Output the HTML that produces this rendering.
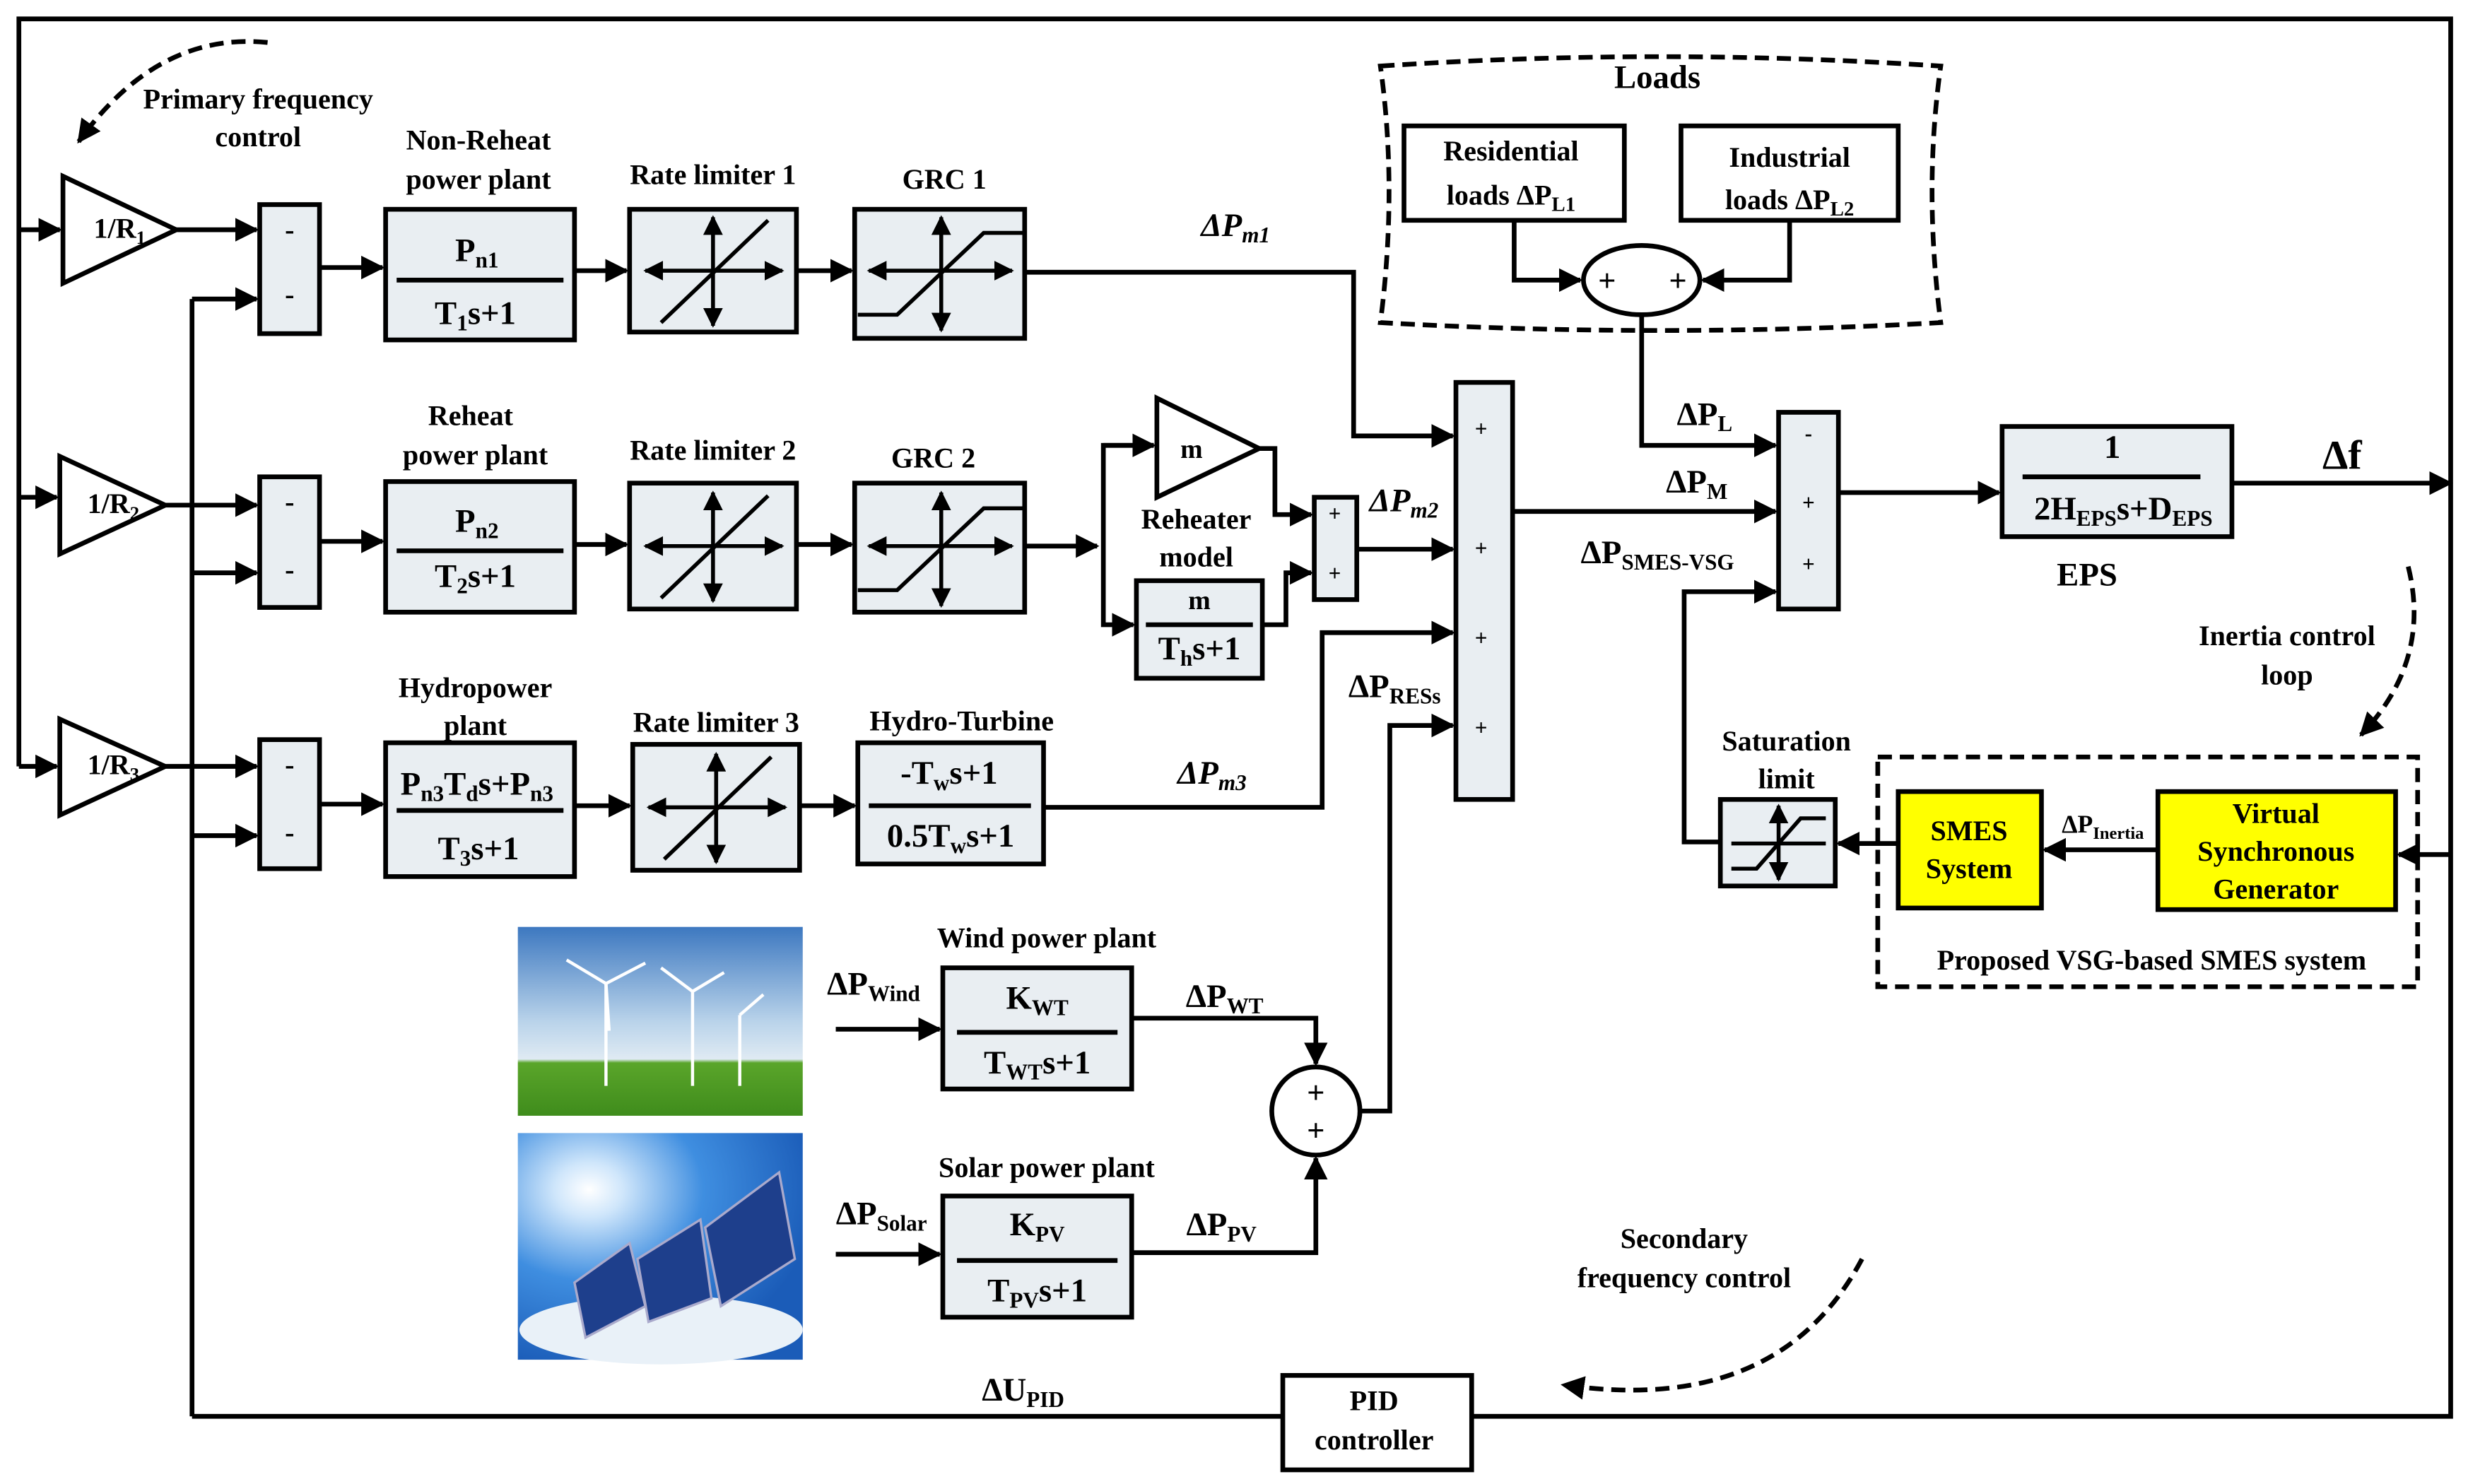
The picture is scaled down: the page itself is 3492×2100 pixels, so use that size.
<!DOCTYPE html>
<html><head><meta charset="utf-8"><style>
html,body{margin:0;padding:0;background:#fff}
svg{display:block}
text{font-family:"Liberation Serif",serif;font-weight:bold;fill:#000}
</style></head><body>
<svg width="3492" height="2100" viewBox="0 0 1568 943" preserveAspectRatio="none" xmlns="http://www.w3.org/2000/svg">
<defs>
<marker id="a" viewBox="0 0 10 10" refX="9" refY="5" markerWidth="5" markerHeight="5" orient="auto-start-reverse"><path d="M0,0L10,5L0,10z" fill="#000"/></marker>
<linearGradient id="sky" x1="0" y1="0" x2="0" y2="1"><stop offset="0" stop-color="#3d78c0"/><stop offset="0.5" stop-color="#b9d3ea"/><stop offset="0.7" stop-color="#dfeaf3"/><stop offset="0.72" stop-color="#5aa52a"/><stop offset="1" stop-color="#3f8c1c"/></linearGradient>
<radialGradient id="sun" cx="0.25" cy="0.25" r="0.8"><stop offset="0" stop-color="#fff"/><stop offset="0.15" stop-color="#cfe6fb"/><stop offset="0.5" stop-color="#3f8ee0"/><stop offset="1" stop-color="#1b5cb8"/></radialGradient>
</defs>
<g stroke="#000" stroke-width="3" fill="none">
<polyline points="12,487 12,12 1557,12 1557,900 935,900"/>
<line x1="815" y1="900" x2="122" y2="900"/>
<line x1="122" y1="900" x2="122" y2="190"/>
<line x1="12" y1="146" x2="38" y2="146" marker-end="url(#a)"/>
<line x1="12" y1="316" x2="36" y2="316" marker-end="url(#a)"/>
<line x1="12" y1="487" x2="36" y2="487" marker-end="url(#a)"/>
<line x1="112" y1="146" x2="163" y2="146" marker-end="url(#a)"/>
<line x1="105" y1="321" x2="163" y2="321" marker-end="url(#a)"/>
<line x1="105" y1="487" x2="163" y2="487" marker-end="url(#a)"/>
<line x1="122" y1="190" x2="163" y2="190" marker-end="url(#a)"/>
<line x1="122" y1="364" x2="163" y2="364" marker-end="url(#a)"/>
<line x1="122" y1="531" x2="163" y2="531" marker-end="url(#a)"/>
<line x1="203" y1="170" x2="243" y2="170" marker-end="url(#a)"/>
<line x1="203" y1="344" x2="243" y2="344" marker-end="url(#a)"/>
<line x1="203" y1="511" x2="243" y2="511" marker-end="url(#a)"/>
<line x1="365" y1="172" x2="398" y2="172" marker-end="url(#a)"/>
<line x1="365" y1="346" x2="398" y2="346" marker-end="url(#a)"/>
<line x1="365" y1="512" x2="400" y2="512" marker-end="url(#a)"/>
<line x1="506" y1="172" x2="541" y2="172" marker-end="url(#a)"/>
<line x1="506" y1="346" x2="541" y2="346" marker-end="url(#a)"/>
<line x1="508" y1="512" x2="543" y2="512" marker-end="url(#a)"/>
<polyline points="651,173 860,173 860,277 923,277" marker-end="url(#a)"/>
<line x1="651" y1="347" x2="697" y2="347" marker-end="url(#a)"/>
<polyline points="733,283 701,283 701,397 720,397" marker-end="url(#a)"/>
<line x1="701" y1="283" x2="733" y2="283" marker-end="url(#a)"/>
<polyline points="800,285 810,285 810,327 833,327" marker-end="url(#a)"/>
<polyline points="802,397 817,397 817,364 833,364" marker-end="url(#a)"/>
<line x1="862" y1="349" x2="923" y2="349" marker-end="url(#a)"/>
<polyline points="663,513 840,513 840,402 923,402" marker-end="url(#a)"/>
<polyline points="864,706 883,706 883,461 923,461" marker-end="url(#a)"/>
<line x1="961" y1="325" x2="1128" y2="325" marker-end="url(#a)"/>
<polyline points="962,140 962,178 1004,178" marker-end="url(#a)"/>
<polyline points="1137,140 1137,178 1082,178" marker-end="url(#a)"/>
<polyline points="1043,200 1043,283 1128,283" marker-end="url(#a)"/>
<line x1="1168" y1="313" x2="1270" y2="313" marker-end="url(#a)"/>
<line x1="1418" y1="307" x2="1557" y2="307" marker-end="url(#a)"/>
<polyline points="1093,535 1070,535 1070,376 1128,376" marker-end="url(#a)"/>
<line x1="1206" y1="536" x2="1168" y2="536" marker-end="url(#a)"/>
<line x1="1371" y1="540" x2="1299" y2="540" marker-end="url(#a)"/>
<line x1="1557" y1="543" x2="1524" y2="543" marker-end="url(#a)"/>
<line x1="531" y1="654" x2="597" y2="654" marker-end="url(#a)"/>
<line x1="531" y1="797" x2="597" y2="797" marker-end="url(#a)"/>
<polyline points="719,647 836,647 836,676" marker-end="url(#a)"/>
<polyline points="719,796 836,796 836,736" marker-end="url(#a)"/>
<polygon points="40,112 40,180 112,146"/>
<polygon points="38,290 38,352 105,321"/>
<polygon points="38,457 38,518 105,487"/>
<polygon points="735,253 735,316 800,285"/>
</g>
<g stroke="#000" stroke-width="3" fill="#e9eef2">
<rect x="165" y="130" width="38" height="82"/>
<rect x="165" y="303" width="38" height="83"/>
<rect x="165" y="470" width="38" height="82"/>
<rect x="245" y="133" width="120" height="83"/>
<rect x="245" y="306" width="120" height="83"/>
<rect x="245" y="472" width="120" height="85"/>
<rect x="400" y="133" width="106" height="78"/>
<rect x="400" y="307" width="106" height="80"/>
<rect x="402" y="473" width="106" height="80"/>
<rect x="543" y="133" width="108" height="82"/>
<rect x="543" y="307" width="108" height="82"/>
<rect x="545" y="472" width="118" height="77"/>
<rect x="722" y="369" width="80" height="62"/>
<rect x="835" y="316" width="27" height="65"/>
<rect x="925" y="243" width="36" height="265"/>
<rect x="1130" y="262" width="38" height="125"/>
<rect x="1272" y="271" width="146" height="70"/>
<rect x="1093" y="508" width="73" height="55"/>
<rect x="599" y="615" width="120" height="77"/>
<rect x="599" y="760" width="120" height="77"/>
</g>
<g stroke="#000" stroke-width="3" fill="#fff">
<rect x="892" y="80" width="140" height="60"/>
<rect x="1068" y="80" width="138" height="60"/>
<ellipse cx="1043" cy="178" rx="37" ry="22"/>
<circle cx="836" cy="706" r="28"/>
<rect x="815" y="874" width="120" height="60"/>
</g>
<g stroke="#000" stroke-width="3" fill="#ffff00">
<rect x="1206" y="503" width="91" height="74"/>
<rect x="1371" y="503" width="151" height="75"/>
</g>
<g stroke="#000" stroke-width="3" fill="none" stroke-dasharray="9,5">
<path d="M877,42 Q1055,30 1233,42 Q1222,120 1233,205 Q1055,215 877,205 Q888,120 877,42z"/>
<rect x="1193" y="481" width="343" height="146"/>
<path d="M170,27 Q100,20 50,90" marker-end="url(#a)"/>
<path d="M1530,360 Q1545,420 1500,467" marker-end="url(#a)"/>
<path d="M1183,800 Q1130,900 993,880" marker-end="url(#a)"/>
</g>
<g stroke="#000" stroke-width="3">
<line x1="252" y1="178" x2="358" y2="178"/>
<line x1="252" y1="350" x2="358" y2="350"/>
<line x1="252" y1="515" x2="358" y2="515"/>
<line x1="552" y1="512" x2="655" y2="512"/>
<line x1="728" y1="397" x2="796" y2="397"/>
<line x1="1285" y1="303" x2="1398" y2="303"/>
<line x1="608" y1="656" x2="710" y2="656"/>
<line x1="608" y1="801" x2="710" y2="801"/>
</g>
<g stroke="#000" stroke-width="2.5" fill="none">
<g id="rl"><line x1="410" y1="172" x2="497" y2="172" marker-end="url(#a)" marker-start="url(#a)"/><line x1="453" y1="138" x2="453" y2="207" marker-end="url(#a)" marker-start="url(#a)"/><line x1="420" y1="205" x2="488" y2="140"/></g>
<use href="#rl" y="175"/><use href="#rl" x="2" y="341"/>
<g id="grc"><line x1="552" y1="172" x2="643" y2="172" marker-end="url(#a)" marker-start="url(#a)"/><line x1="598" y1="138" x2="598" y2="210" marker-end="url(#a)" marker-start="url(#a)"/><polyline points="545,200 570,200 625,148 651,148"/></g>
<use href="#grc" y="175"/>
<line x1="1100" y1="536" x2="1160" y2="536"/><line x1="1130" y1="512" x2="1130" y2="559" marker-end="url(#a)" marker-start="url(#a)"/><polyline points="1100,552 1116,552 1144,520 1160,520"/>
</g>
<rect x="329" y="589" width="181" height="120" fill="url(#sky)"/>
<g stroke="#fff" stroke-width="2"><line x1="385" y1="625" x2="385" y2="690"/><line x1="385" y1="625" x2="360" y2="610"/><line x1="385" y1="625" x2="410" y2="612"/><line x1="385" y1="625" x2="387" y2="655"/><line x1="440" y1="630" x2="440" y2="690"/><line x1="440" y1="630" x2="420" y2="615"/><line x1="440" y1="630" x2="460" y2="618"/><line x1="470" y1="645" x2="470" y2="690"/><line x1="470" y1="645" x2="485" y2="632"/></g>
<rect x="329" y="720" width="181" height="144" fill="url(#sun)"/>
<ellipse cx="420" cy="845" rx="90" ry="22" fill="#e9f1f8"/>
<g fill="#1e3f8c" stroke="#aac" stroke-width="1.5"><polygon points="365,815 400,790 410,830 372,850"/><polygon points="405,800 445,775 452,825 412,840"/><polygon points="448,780 495,745 505,800 458,830"/></g>
<g font-size="18" text-anchor="middle">
<text x="76" y="151">1/R<tspan font-size="12" dy="4">1</tspan></text>
<text x="72" y="326">1/R<tspan font-size="12" dy="4">2</tspan></text>
<text x="72" y="492">1/R<tspan font-size="12" dy="4">3</tspan></text>
<text x="184" y="152">-</text><text x="184" y="193">-</text>
<text x="184" y="325">-</text><text x="184" y="368">-</text>
<text x="184" y="492">-</text><text x="184" y="535">-</text>
<text x="164" y="69">Primary frequency</text><text x="164" y="93">control</text>
<text x="304" y="95">Non-Reheat</text><text x="304" y="120">power plant</text>
<text x="299" y="270">Reheat</text><text x="302" y="295">power plant</text>
<text x="302" y="443">Hydropower</text><text x="302" y="467">plant</text>
<text x="453" y="117">Rate limiter 1</text>
<text x="453" y="292">Rate limiter 2</text>
<text x="455" y="465">Rate limiter 3</text>
<text x="600" y="120">GRC 1</text><text x="593" y="297">GRC 2</text>
<text x="611" y="464">Hydro-Turbine</text>
<text x="760" y="336">Reheater</text><text x="760" y="360">model</text>
<text x="665" y="602">Wind power plant</text>
<text x="665" y="748">Solar power plant</text>
<text x="1070" y="793">Secondary</text><text x="1070" y="818">frequency control</text>
<text x="1453" y="410">Inertia control</text><text x="1453" y="435">loop</text>
<text x="1135" y="477">Saturation</text><text x="1135" y="501">limit</text>
<text x="1367" y="616">Proposed VSG-based SMES system</text>
<text x="960" y="102">Residential</text><text x="960" y="130">loads ΔP<tspan font-size="13" dy="4">L1</tspan></text>
<text x="1137" y="106">Industrial</text><text x="1137" y="133">loads ΔP<tspan font-size="13" dy="4">L2</tspan></text>
<text x="1251" y="534">SMES</text><text x="1251" y="558">System</text>
<text x="1446" y="523">Virtual</text><text x="1446" y="547">Synchronous</text><text x="1446" y="571">Generator</text>
<text x="873" y="896">PID</text><text x="873" y="921">controller</text>
</g>
<g font-size="14" text-anchor="middle">
<text x="941" y="277">+</text><text x="941" y="353">+</text><text x="941" y="410">+</text><text x="941" y="467">+</text>
<text x="848" y="331">+</text><text x="848" y="369">+</text>
<text x="1149" y="280">-</text><text x="1149" y="324">+</text><text x="1149" y="363">+</text>
</g>
<g font-size="20" text-anchor="middle">
<text x="1021" y="185">+</text><text x="1066" y="185">+</text>
<text x="836" y="701">+</text><text x="836" y="725">+</text>
</g>
<g font-size="21" text-anchor="middle">
<text x="303" y="166">P<tspan font-size="14" dy="4">n1</tspan></text><text x="302" y="206">T<tspan font-size="14" dy="4">1</tspan><tspan dy="-4">s+1</tspan></text>
<text x="303" y="338">P<tspan font-size="14" dy="4">n2</tspan></text><text x="302" y="373">T<tspan font-size="14" dy="4">2</tspan><tspan dy="-4">s+1</tspan></text>
<text x="303" y="505">P<tspan font-size="14" dy="4">n3</tspan><tspan dy="-4">T</tspan><tspan font-size="14" dy="4">d</tspan><tspan dy="-4">s+P</tspan><tspan font-size="14" dy="4">n3</tspan></text>
<text x="304" y="546">T<tspan font-size="14" dy="4">3</tspan><tspan dy="-4">s+1</tspan></text>
<text x="603" y="498">-T<tspan font-size="14" dy="4">w</tspan><tspan dy="-4">s+1</tspan></text>
<text x="604" y="538">0.5T<tspan font-size="14" dy="4">w</tspan><tspan dy="-4">s+1</tspan></text>
<text x="762" y="387" font-size="17">m</text>
<text x="762" y="419">T<tspan font-size="14" dy="4">h</tspan><tspan dy="-4">s+1</tspan></text>
<text x="757" y="291" font-size="17">m</text>
<text x="1342" y="291">1</text>
<text x="1349" y="330">2H<tspan font-size="14" dy="4">EPS</tspan><tspan dy="-4">s+D</tspan><tspan font-size="14" dy="4">EPS</tspan></text>
<text x="659" y="641">K<tspan font-size="14" dy="4">WT</tspan></text><text x="659" y="682">T<tspan font-size="14" dy="4">WT</tspan><tspan dy="-4">s+1</tspan></text>
<text x="659" y="785">K<tspan font-size="14" dy="4">PV</tspan></text><text x="659" y="827">T<tspan font-size="14" dy="4">PV</tspan><tspan dy="-4">s+1</tspan></text>
<text x="1053" y="56">Loads</text>
<text x="1326" y="372">EPS</text>
<text x="1488" y="298" font-size="26">Δf</text>
<text x="785" y="150" font-style="italic">ΔP<tspan font-size="14" dy="4">m1</tspan></text>
<text x="892" y="325" font-style="italic">ΔP<tspan font-size="14" dy="4">m2</tspan></text>
<text x="770" y="498" font-style="italic">ΔP<tspan font-size="14" dy="4">m3</tspan></text>
<text x="1083" y="270">ΔP<tspan font-size="14" dy="4">L</tspan></text>
<text x="1078" y="313">ΔP<tspan font-size="14" dy="4">M</tspan></text>
<text x="1053" y="358">ΔP<tspan font-size="14" dy="4">SMES-VSG</tspan></text>
<text x="886" y="443">ΔP<tspan font-size="14" dy="4">RESs</tspan></text>
<text x="555" y="632">ΔP<tspan font-size="14" dy="4">Wind</tspan></text>
<text x="560" y="778">ΔP<tspan font-size="14" dy="4">Solar</tspan></text>
<text x="778" y="640">ΔP<tspan font-size="14" dy="4">WT</tspan></text>
<text x="776" y="785">ΔP<tspan font-size="14" dy="4">PV</tspan></text>
<text x="650" y="890">ΔU<tspan font-size="14" dy="4">PID</tspan></text>
<text x="1336" y="529" font-size="16">ΔP<tspan font-size="11" dy="4">Inertia</tspan></text>
</g>
</svg>
</body></html>
